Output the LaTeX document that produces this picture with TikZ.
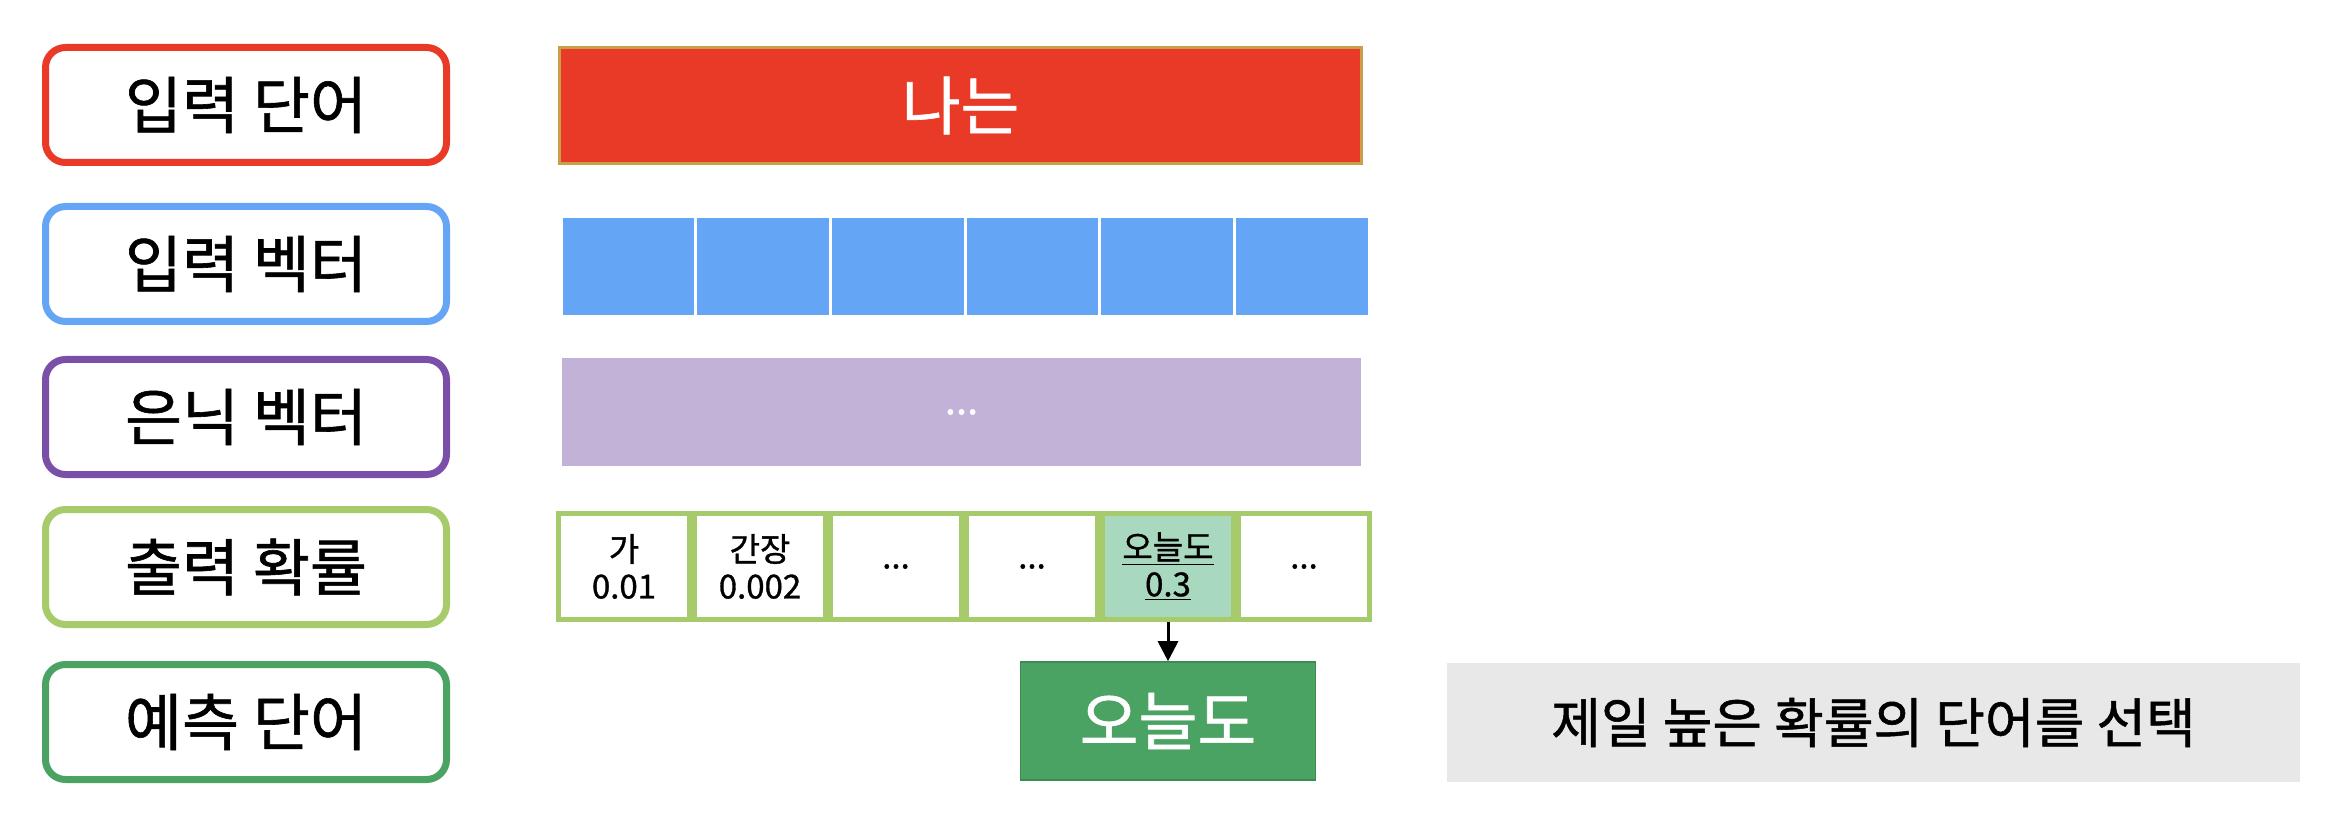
\documentclass[tikz,border=0pt]{standalone}
\usepackage{fontspec}
\setmainfont{Noto Sans CJK KR}[FakeBold=1.0]
\usepackage{xcolor}
\usepackage{tikz}
\usetikzlibrary{arrows.meta,positioning}

\definecolor{wordred}{HTML}{E83A26}
\definecolor{wordgold}{HTML}{C9A04A}
\definecolor{vecblue}{HTML}{64A6F5}
\definecolor{hidborder}{HTML}{7A4FA8}
\definecolor{hidfill}{HTML}{C2B2D8}
\definecolor{outgreen}{HTML}{A7CA6B}
\definecolor{picked}{HTML}{A8D8BE}
\definecolor{predgreen}{HTML}{4AA263}
\definecolor{notegray}{HTML}{E8E8E8}

\begin{document}
\begin{tikzpicture}[
    x=0.5pt, y=-0.5pt,
    label/.style={rectangle, draw, line width=3.5pt, rounded corners=10pt, fill=white, minimum width=200.5pt, minimum height=57.5pt, align=center, font=\fontsize{31}{36}\selectfont},
    vcell/.style={rectangle, fill=vecblue, draw=white, line width=1.5pt, minimum width=67.3pt, minimum height=50pt, inner sep=0pt},
    pcell/.style={rectangle, draw=outgreen, fill=white, line width=2.5pt, minimum width=65.5pt, minimum height=53pt, inner sep=0pt, align=center, font=\fontsize{16.5}{18.5}\selectfont},
    arrow/.style={-{Triangle[width=10pt,length=10pt]}, line width=1.5pt, black}
]
\useasboundingbox (0,0) rectangle (2346,834);

% Row labels
\node[label, draw=wordred] (lab_word) at (246,105) {입력 단어};
\node[label, draw=vecblue] (lab_vec) at (246,264) {입력 벡터};
\node[label, draw=hidborder] (lab_hid) at (246,417) {은닉 벡터};
\node[label, draw=outgreen] (lab_prob) at (246,567) {출력 확률};
\node[label, draw=predgreen] (lab_pred) at (246,722) {예측 단어};

% Input word
\node[rectangle, fill=wordred, draw=wordgold, line width=1.5pt, minimum width=401pt, minimum height=58pt, text=white, font=\fontsize{32}{36}\selectfont] (word) at (960.5,105.5) {나는};

% Input vector
\node[vcell] (v1) at (628.3,267) {};
\node[vcell] (v2) at (763,267) {};
\node[vcell] (v3) at (897.7,267) {};
\node[vcell] (v4) at (1032.3,267) {};
\node[vcell] (v5) at (1167,267) {};
\node[vcell] (v6) at (1301.7,267) {};

% Hidden vector
\node[rectangle, fill=hidfill, minimum width=399.5pt, minimum height=54pt, text=white, font=\fontsize{20}{24}\selectfont] (hidden) at (961.5,412) {...};

% Output probabilities
\node[pcell] (p1) at (624,566.5) {가\\0.01};
\node[pcell] (p2) at (760,566.5) {간장\\0.002};
\node[pcell] (p3) at (896,566.5) {...};
\node[pcell] (p4) at (1032,566.5) {...};
\node[pcell, fill=picked] (p5) at (1168,566.5) {\underline{오늘도}\\\underline{0.3}};
\node[pcell] (p6) at (1304,566.5) {...};

% Predicted word
\node[rectangle, fill=predgreen, draw=predgreen!85!black, line width=0.8pt, minimum width=147.5pt, minimum height=59pt, text=white, font=\fontsize{32}{36}\selectfont] (pred) at (1168,721) {오늘도};
\draw[arrow] (p5) -- (pred);

% Note
\node[rectangle, fill=notegray, minimum width=426.5pt, minimum height=59.5pt, font=\fontsize{27}{32}\selectfont] (note) at (1873.5,722.5) {제일 높은 확률의 단어를 선택};

\end{tikzpicture}
\end{document}
